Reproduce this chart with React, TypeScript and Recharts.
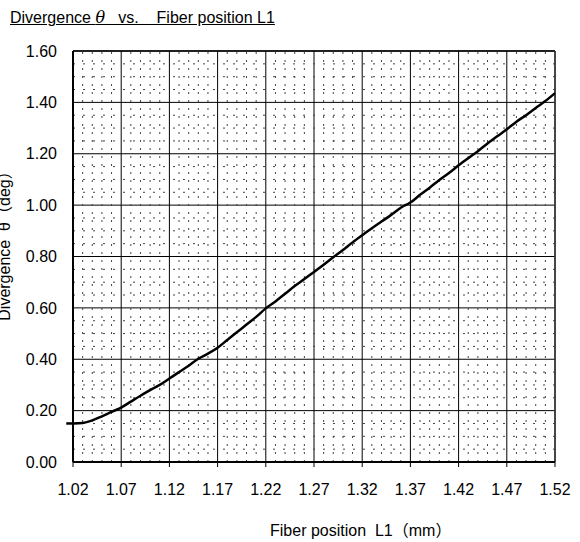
import React from 'react';
import { LineChart, Line, XAxis, YAxis, CartesianGrid, ReferenceLine } from 'recharts';

const xTicks = [1.02, 1.07, 1.12, 1.17, 1.22, 1.27, 1.32, 1.37, 1.42, 1.47, 1.52];
const yTicks = [0, 0.2, 0.4, 0.6, 0.8, 1.0, 1.2, 1.4, 1.6];

const fiberPosition = [
  1.02, 1.03, 1.04, 1.05, 1.06, 1.07, 1.08, 1.09, 1.1, 1.11, 1.12, 1.13, 1.14, 1.15, 1.16, 1.17,
  1.18, 1.19, 1.2, 1.21, 1.22, 1.23, 1.24, 1.25, 1.26, 1.27, 1.28, 1.29, 1.3, 1.31, 1.32, 1.33,
  1.34, 1.35, 1.36, 1.37, 1.38, 1.39, 1.4, 1.41, 1.42, 1.43, 1.44, 1.45, 1.46, 1.47, 1.48, 1.49,
  1.5, 1.51, 1.52,
];
const divergence = [
  0.15, 0.152, 0.162, 0.178, 0.195, 0.212, 0.235, 0.258, 0.28, 0.3, 0.325, 0.35, 0.375, 0.402,
  0.422, 0.445, 0.475, 0.505, 0.535, 0.565, 0.598, 0.625, 0.655, 0.685, 0.712, 0.74, 0.768, 0.797,
  0.825, 0.855, 0.883, 0.91, 0.936, 0.962, 0.99, 1.01, 1.04, 1.068, 1.098, 1.125, 1.155, 1.183,
  1.21, 1.24, 1.268, 1.295, 1.325, 1.35, 1.378, 1.405, 1.436,
];
// the curve starts a little left of the axis
const leadInX = 1.013;
const leadInY = 0.15;

const data = fiberPosition.map((x, i) => ({ x, y: divergence[i] }));

const minorX: number[] = [];
xTicks.slice(0, -1).forEach((t) => {
  for (let k = 1; k < 5; k++) minorX.push(Number((t + k * 0.01).toFixed(3)));
});
const minorY: number[] = [];
yTicks.slice(0, -1).forEach((t) => {
  for (let k = 1; k < 4; k++) minorY.push(Number((t + k * 0.05).toFixed(3)));
});

const font = '"Liberation Sans", "Noto Sans CJK JP", sans-serif';

const App: React.FC = () => {
  return (
    <div style={{ position: 'absolute', left: 0, top: 0, width: 580, height: 542, background: '#fff', fontFamily: font, overflow: 'hidden' }}>
      <div style={{ position: 'absolute', left: 10, top: 8, fontSize: 16, textDecoration: 'underline', whiteSpace: 'pre', color: '#000' }}>
        Divergence <i style={{ fontFamily: '"DejaVu Serif", serif' }}>θ</i>{'   vs.    Fiber position L1'}
      </div>
      <div
        style={{
          position: 'absolute', left: 3, top: 242, fontSize: 16, whiteSpace: 'pre', color: '#000',
          transform: 'translate(-50%, -50%) rotate(-90deg)',
        }}
      >
        Divergence  θ（deg）
      </div>
      <div style={{ position: 'absolute', left: 270, top: 517, fontSize: 16, whiteSpace: 'pre', color: '#000' }}>
        Fiber position  L1（mm）
      </div>
      <LineChart width={580} height={542} data={data} margin={{ top: 51, right: 25, bottom: 0, left: 0 }}>
        {minorX.map((v) => (
          <ReferenceLine key={`mx${v}`} x={v} stroke="#444" strokeWidth={1} strokeDasharray="2 6" />
        ))}
        {minorY.map((v) => (
          <ReferenceLine key={`my${v}`} y={v} stroke="#444" strokeWidth={1} strokeDasharray="2 8" />
        ))}
        <CartesianGrid stroke="#000" strokeWidth={1} />
        <XAxis
          dataKey="x"
          type="number"
          domain={[1.02, 1.52]}
          ticks={xTicks}
          tickFormatter={(v: number) => v.toFixed(2)}
          interval={0}
          height={80}
          axisLine={{ stroke: '#000', strokeWidth: 2 }}
          tickLine={{ stroke: '#000', strokeWidth: 1 }}
          tickSize={5}
          tickMargin={17}
          tick={{ fill: '#000', fontSize: 16, fontFamily: font }}
        />
        <YAxis
          type="number"
          domain={[0, 1.6]}
          ticks={yTicks}
          tickFormatter={(v: number) => v.toFixed(2)}
          interval={0}
          width={73}
          axisLine={{ stroke: '#000', strokeWidth: 2 }}
          tickLine={false}
          tickSize={0}
          tickMargin={16}
          tick={{ fill: '#000', fontSize: 16, fontFamily: font }}
        />
        <ReferenceLine y={1.6} stroke="#000" strokeWidth={1.5} />
        <ReferenceLine x={1.52} stroke="#333" strokeWidth={1.5} />
        <ReferenceLine
          segment={[{ x: leadInX, y: leadInY }, { x: fiberPosition[0], y: divergence[0] }]}
          ifOverflow="visible"
          stroke="#000"
          strokeWidth={2.5}
        />
        <Line
          dataKey="y"
          type="monotone"
          stroke="#000"
          strokeWidth={2.5}
          dot={false}
          isAnimationActive={false}
        />
      </LineChart>
    </div>
  );
};

export default App;
